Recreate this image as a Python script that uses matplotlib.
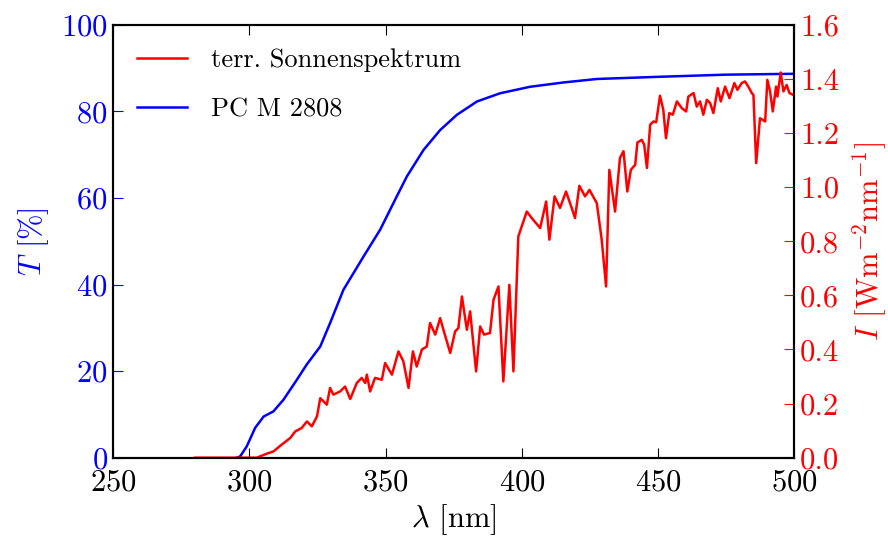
import numpy as np
import matplotlib
matplotlib.use('Agg')
import matplotlib.pyplot as plt

plt.rcParams['font.family'] = 'cmr10'
plt.rcParams['mathtext.fontset'] = 'cm'
plt.rcParams['axes.formatter.use_mathtext'] = True
plt.rcParams['axes.unicode_minus'] = False

# Transmission PC M 2808 (T in %)
lam_pc = [295.4, 296.6, 299.0, 302.1, 305.2, 308.8, 312.5, 317.4, 321.0, 326.0,
          329.6, 334.5, 341.9, 348.0, 354.1, 357.8, 363.9, 370.0, 376.1, 383.5,
          392.0, 403.0, 415.3, 427.5, 450.0, 475.0, 500.0]
T_pc = [0.0, 0.3, 2.6, 6.9, 9.5, 10.7, 13.4, 18.0, 21.5, 25.7,
        31.1, 38.8, 46.5, 52.7, 60.4, 65.0, 71.1, 75.7, 79.2, 82.3,
        84.2, 85.7, 86.7, 87.5, 88.0, 88.5, 88.7]

# terrestrisches Sonnenspektrum (I in W m^-2 nm^-1)
lam_sun = [280.0, 290.0, 300.0, 302.7, 306.4, 308.8, 311.3, 315.0, 316.8, 319.2,
           321.1, 322.9, 324.8, 326.0, 328.4, 329.6, 330.8, 333.3, 335.1, 337.0,
           339.4, 341.2, 342.5, 343.1, 344.3, 346.1, 348.6, 349.8, 352.3, 354.7,
           356.5, 358.4, 360.0, 361.4, 363.3, 365.1, 366.3, 368.2, 370.0, 371.2,
           373.7, 375.5, 376.7, 378.0, 379.8, 381.0, 383.2, 384.7, 386.1, 388.3,
           389.6, 391.4, 393.2, 395.4, 396.9, 398.7, 401.8, 403.6, 406.7, 408.9,
           410.1, 412.0, 414.0, 416.2, 418.3, 419.5, 421.1, 423.2, 424.8, 427.5,
           429.3, 430.9, 432.1, 434.2, 436.0, 437.3, 438.7, 440.0, 441.6, 442.4,
           444.0, 444.9, 445.9, 447.1, 448.3, 449.3, 450.7, 451.9, 452.9, 454.1,
           455.4, 456.9, 458.7, 460.3, 461.1, 463.0, 464.2, 465.4, 466.6, 467.9,
           469.1, 470.3, 471.9, 473.0, 474.6, 476.2, 478.0, 479.1, 480.7, 481.9,
           483.1, 484.4, 485.0, 486.0, 487.4, 489.3, 490.1, 491.1, 492.1, 493.3,
           493.8, 495.0, 496.0, 497.2, 498.2, 499.7, 500.0]
I_sun = [0.0, 0.0, 0.0, 0.0, 0.015, 0.023, 0.044, 0.073, 0.097, 0.11,
         0.134, 0.116, 0.153, 0.22, 0.196, 0.258, 0.233, 0.245, 0.263, 0.217,
         0.276, 0.295, 0.276, 0.307, 0.245, 0.295, 0.288, 0.35, 0.307, 0.393,
         0.356, 0.258, 0.393, 0.337, 0.4, 0.411, 0.498, 0.455, 0.516, 0.473,
         0.387, 0.467, 0.479, 0.596, 0.473, 0.541, 0.319, 0.485, 0.455, 0.461,
         0.584, 0.633, 0.282, 0.639, 0.319, 0.818, 0.91, 0.886, 0.849, 0.947,
         0.806, 0.966, 0.923, 0.984, 0.923, 0.886, 1.005, 0.966, 0.99, 0.941,
         0.806, 0.633, 1.064, 0.91, 1.108, 1.133, 0.984, 1.064, 1.083, 1.165,
         1.175, 1.157, 1.071, 1.231, 1.243, 1.24, 1.338, 1.286, 1.181, 1.274,
         1.268, 1.317, 1.292, 1.28, 1.335, 1.348, 1.298, 1.317, 1.268, 1.323,
         1.311, 1.274, 1.366, 1.317, 1.372, 1.329, 1.385, 1.36, 1.385, 1.391,
         1.372, 1.348, 1.341, 1.089, 1.255, 1.243, 1.397, 1.354, 1.28, 1.372,
         1.335, 1.424, 1.354, 1.378, 1.348, 1.341, 1.34]

fig = plt.figure(figsize=(8.88, 5.41), dpi=100)
ax1 = fig.add_axes([0.1275, 0.154, 0.767, 0.8])
ax2 = ax1.twinx()

l2, = ax1.plot(lam_pc, T_pc, color='blue', lw=1.8, label='PC M 2808')
l1, = ax2.plot(lam_sun, I_sun, color='red', lw=1.8, label='terr. Sonnenspektrum')

ax1.set_xlim(250, 500)
ax1.set_ylim(0, 100)
ax2.set_ylim(0, 1.6)
ax1.set_xticks(np.arange(250, 501, 50))
ax1.set_yticks(np.arange(0, 101, 20))
ax2.set_yticks(np.arange(0, 1.61, 0.2))
ax2.set_yticklabels(['%.1f' % v for v in np.arange(0, 1.61, 0.2)])

fs = 22
ax1.tick_params(axis='x', direction='in', top=True, labelsize=fs, length=7, pad=8)
ax1.tick_params(axis='y', direction='in', left=True, right=False, colors='blue',
                labelsize=fs, length=7, pad=4)
ax2.tick_params(axis='y', direction='in', colors='red', labelsize=fs, length=7, pad=4)
for a in (ax1, ax2):
    for s in a.spines.values():
        s.set_linewidth(1.5)
        s.set_color('black')

ax1.set_xlabel(r'$\lambda$ [nm]', fontsize=fs, labelpad=4)
ax1.set_ylabel(r'$T$ [%]', fontsize=fs, color='blue', labelpad=7)
ax2.set_ylabel(r'$I$ [Wm$^{-2}$nm$^{-1}$]', fontsize=fs, color='red', labelpad=8)

ax1.legend([l1, l2], ['terr. Sonnenspektrum', 'PC M 2808'], loc='upper left',
           frameon=False, fontsize=19, handlelength=1.9, labelspacing=0.95,
           handletextpad=0.9, borderaxespad=0.5)

fig.savefig('out.png', dpi=100)
